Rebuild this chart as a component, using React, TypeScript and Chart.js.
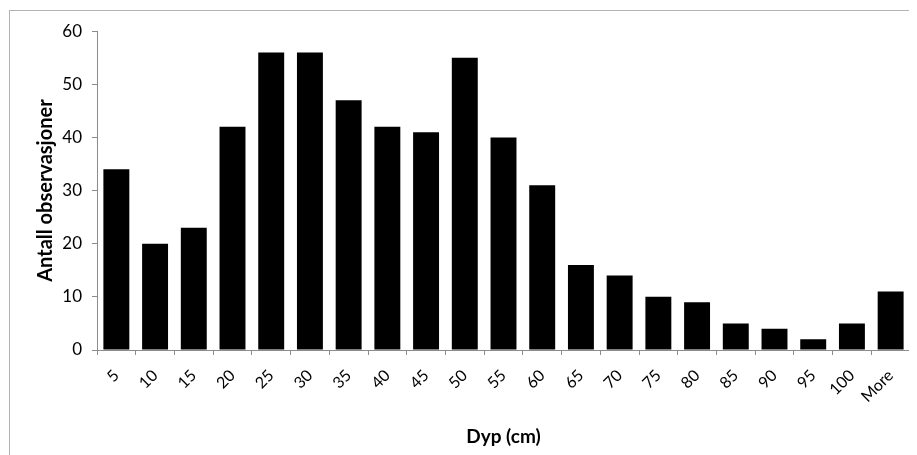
import React, { useEffect, useRef } from 'react';
import { Chart, registerables } from 'chart.js';

Chart.register(...registerables);

const categories = ['5', '10', '15', '20', '25', '30', '35', '40', '45', '50', '55', '60', '65', '70', '75', '80', '85', '90', '95', '100', 'More'];
const counts = [34, 20, 23, 42, 56, 56, 47, 42, 41, 55, 40, 31, 16, 14, 10, 9, 5, 4, 2, 5, 11];
const yTitle = 'Antall observasjoner';
const xTitle = 'Dyp (cm)';

const FONT = 'Lato, "Noto Sans", sans-serif';

const App: React.FC = () => {
  const canvasRef = useRef<HTMLCanvasElement>(null);
  const chartRef = useRef<Chart | null>(null);

  useEffect(() => {
    if (!canvasRef.current) return;
    if (chartRef.current) chartRef.current.destroy();
    const ctx = canvasRef.current.getContext('2d');
    if (!ctx) return;

    chartRef.current = new Chart(ctx, {
      type: 'bar',
      data: {
        labels: categories,
        datasets: [
          {
            data: counts,
            backgroundColor: '#000000',
            borderWidth: 0,
            barPercentage: 0.67,
            categoryPercentage: 1,
          },
        ],
      },
      options: {
        animation: false,
        responsive: true,
        maintainAspectRatio: false,
        layout: { padding: { top: 19, right: 7, bottom: 0, left: 0 } },
        plugins: {
          legend: { display: false },
          tooltip: { enabled: false },
        },
        scales: {
          x: {
            grid: {
              display: true,
              drawOnChartArea: false,
              drawTicks: true,
              tickLength: 5,
              color: '#8c8c8c',
            },
            border: { color: '#8c8c8c' },
            ticks: {
              color: '#000',
              font: { family: FONT, size: 16 },
              minRotation: 45,
              maxRotation: 45,
              autoSkip: false,
              padding: 11,
            },
            title: {
              display: true,
              text: xTitle,
              color: '#000',
              font: { family: FONT, size: 19, weight: 'bold' },
              padding: { top: 8, bottom: 7 },
            },
            afterFit: (scale: any) => {
              scale.height = 105;
            },
          },
          y: {
            min: 0,
            max: 60,
            ticks: {
              stepSize: 10,
              color: '#000',
              font: { family: FONT, size: 17 },
              padding: 10,
            },
            grid: {
              display: true,
              drawOnChartArea: false,
              drawTicks: true,
              tickLength: 5,
              color: '#8c8c8c',
            },
            border: { color: '#8c8c8c' },
            title: {
              display: true,
              text: yTitle,
              color: '#000',
              font: { family: FONT, size: 20, weight: 'bold' },
              padding: { top: 24, bottom: 0 },
            },
            afterFit: (scale: any) => {
              scale.width = 87;
            },
          },
        },
      },
    });

    return () => {
      if (chartRef.current) {
        chartRef.current.destroy();
        chartRef.current = null;
      }
    };
  }, []);

  return (
    <div
      style={{
        marginTop: 2,
        marginLeft: 1,
        width: 908,
        height: 445,
        boxSizing: 'border-box',
        borderTop: '1px solid #b3b3b3',
        borderLeft: '1px solid #b3b3b3',
        background: '#fff',
      }}
    >
      <div style={{ position: 'relative', width: 907, height: 444 }}>
        <canvas ref={canvasRef} />
      </div>
    </div>
  );
};

export default App;
